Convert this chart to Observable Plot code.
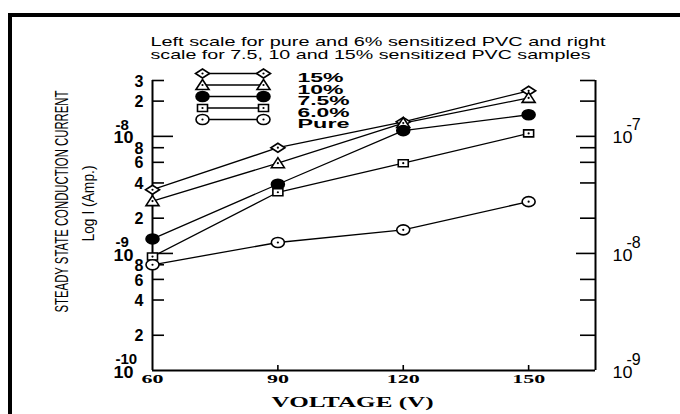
<!DOCTYPE html>
<html><head><meta charset="utf-8">
<script src="https://cdn.jsdelivr.net/npm/d3@7"></script>
<script src="https://cdn.jsdelivr.net/npm/@observablehq/plot@0.6"></script>
<style>
html,body{margin:0;padding:0;background:#fff;}
#chart{position:relative;width:680px;height:414px;overflow:hidden;background:#fff}
#border{position:absolute;left:8px;top:13px;width:700px;height:440px;border-top:4px solid #000;border-left:4px solid #000;pointer-events:none}
svg{display:block}
</style></head><body><div id="chart"><div id="border"></div></div>
<script>
// ---- data ----
const voltages = [60, 90, 120, 150];
const seriesNames = ["15%", "10%", "7.5%", "6.0%", "Pure"];
const seriesScale = ["right", "right", "right", "left", "left"];
const current15 = [3.5e-8, 8.0e-8, 1.33e-7, 2.45e-7];
const current10 = [2.8e-8, 5.9e-8, 1.30e-7, 2.13e-7];
const current75 = [1.33e-8, 3.9e-8, 1.12e-7, 1.53e-7];
const current6 = [9.4e-10, 3.33e-9, 5.9e-9, 1.06e-8];
const currentPure = [8.0e-10, 1.24e-9, 1.59e-9, 2.77e-9];
const xTicks = [60, 90, 120, 150];
const leftMajor = [1e-10, 1e-9, 1e-8];
const leftMajorExp = ["-10", "-9", "-8"];
const leftMinor = [2e-10, 4e-10, 6e-10, 8e-10, 2e-9, 4e-9, 6e-9, 8e-9, 2e-8, 3e-8];
const leftMinorLabels = ["2", "4", "6", "8", "2", "4", "6", "8", "2", "3"];
const rightMinor = [2e-10, 4e-10, 6e-10, 2e-9, 4e-9, 6e-9, 8e-9, 2e-8, 3e-8];
const rightMajorExp = ["-9", "-8", "-7"];
const titleLines = ["Left scale for pure and 6% sensitized PVC and right", "scale for 7.5, 10 and 15% sensitized PVC samples"];
const yTitle = "STEADY STATE CONDUCTION CURRENT";
const yTitle2 = "Log I (Amp.)";
const xTitle = "VOLTAGE (V)";

// ---- layout / style ----
const W = 680, H = 414, mL = 152, mR = 85, mT = 80, mB = 44;
const pw = W - mL - mR, ph = H - mT - mB;
const midY = mT + ph / 2;
function ell(c, a, b) {
  const k = 0.5523;
  c.moveTo(a, 0);
  c.bezierCurveTo(a, b * k, a * k, b, 0, b);
  c.bezierCurveTo(-a * k, b, -a, b * k, -a, 0);
  c.bezierCurveTo(-a, -b * k, -a * k, -b, 0, -b);
  c.bezierCurveTo(a * k, -b, a, -b * k, a, 0);
  c.closePath();
}
const sym = {
  diamond: {draw(c) { c.moveTo(7, 0); c.lineTo(0, 4.5); c.lineTo(-7, 0); c.lineTo(0, -4.5); c.closePath(); }},
  triangle: {draw(c) { c.moveTo(0, -5.5); c.lineTo(6.5, 4.5); c.lineTo(-6.5, 4.5); c.closePath(); }},
  ellipse: {draw(c) { ell(c, 6.5, 5); }},
  rect: {draw(c) { c.rect(-5, -3.5, 10, 7); }},
  seg: {draw(c) { c.moveTo(-30.5, 0); c.lineTo(30.5, 0); }}
};
const seriesSym = [sym.diamond, sym.triangle, sym.ellipse, sym.rect, sym.ellipse];
const seriesFill = ["white", "white", "black", "white", "white"];
const seriesCenter = [true, true, false, true, true];

const allCurrents = [current15, current10, current75, current6, currentPure];
const rows = seriesNames.flatMap((s, i) => voltages.map((v, j) => ({
  series: s, si: i, v, I: allCurrents[i][j],
  yp: seriesScale[i] === "right" ? allCurrents[i][j] / 10 : allCurrents[i][j]
})));

const sans = "Liberation Sans, Arial, sans-serif";
const serif = "Liberation Serif, Times New Roman, serif";
const narrow = "Liberation Sans Narrow, Liberation Sans, Arial, sans-serif";

const marks = [];
// axes frame (left, right, bottom)
marks.push(Plot.ruleX([60, 166], {stroke: "black", strokeWidth: 2}));
marks.push(Plot.ruleY([1e-10], {stroke: "black", strokeWidth: 2}));
// left ticks
marks.push(Plot.ruleY(leftMinor, {stroke: "black", strokeWidth: 1.6, insetRight: pw - 12}));
marks.push(Plot.ruleY(leftMajor.slice(1), {stroke: "black", strokeWidth: 1.6, insetRight: pw - 21}));
// right ticks
marks.push(Plot.ruleY(rightMinor, {stroke: "black", strokeWidth: 1.6, insetLeft: pw - 15}));
marks.push(Plot.ruleY(leftMajor.slice(1), {stroke: "black", strokeWidth: 1.6, insetLeft: pw - 19}));
// x ticks
marks.push(Plot.ruleX(xTicks.slice(1), {stroke: "black", strokeWidth: 1.6, insetTop: ph - 5}));

// left tick labels
const leftMinorData = leftMinor.map((v, i) => ({v, t: leftMinorLabels[i]}));
marks.push(Plot.text(leftMinorData, {y: "v", text: "t", frameAnchor: "left", textAnchor: "end", dx: -9, dy: 1, fontSize: 16, fontWeight: "bold", fontFamily: sans, fill: "black"}));
const leftMajorData = leftMajor.map((v, i) => ({v, e: leftMajorExp[i]}));
marks.push(Plot.text(leftMajorData, {y: "v", text: () => "10", frameAnchor: "left", textAnchor: "end", dx: -19, dy: 2, fontSize: 16, fontWeight: "bold", fontFamily: sans, fill: "black", className: "ten"}));
marks.push(Plot.text(leftMajorData, {y: "v", text: "e", frameAnchor: "left", textAnchor: "start", dx: -37, dy: -11, fontSize: 15, fontWeight: "bold", fontFamily: sans, fill: "black"}));
// right tick labels
const rightMajorData = leftMajor.map((v, i) => ({v, e: rightMajorExp[i]}));
marks.push(Plot.text(rightMajorData, {y: "v", text: () => "10", frameAnchor: "right", textAnchor: "start", dx: 17, dy: 2, fontSize: 16, fontFamily: sans, fill: "black", className: "ten"}));
marks.push(Plot.text(rightMajorData, {y: "v", text: "e", frameAnchor: "right", textAnchor: "start", dx: 31, dy: -11, fontSize: 16, fontFamily: sans, fill: "black"}));
// x tick labels
marks.push(Plot.text(xTicks, {x: d => d, text: d => String(d), frameAnchor: "bottom", dy: 12, fontSize: 13, fontWeight: "bold", fontFamily: serif, fill: "black", className: "xlab"}));
// axis titles
marks.push(Plot.text([xTitle], {text: d => d, frameAnchor: "bottom", dx: -21.5, dy: 36, fontSize: 15, fontWeight: "bold", fontFamily: serif, fill: "black", className: "xtitle"}));
marks.push(Plot.text([yTitle], {text: d => d, frameAnchor: "left", rotate: -90, textAnchor: "start", dx: 62 - mL, dy: (201 + 111) - midY, fontSize: 18, fontFamily: narrow, fill: "black", className: "ytitle"}));
marks.push(Plot.text([yTitle2], {text: d => d, frameAnchor: "left", rotate: -90, textAnchor: "start", dx: 88 - mL, dy: (203 + 38) - midY, fontSize: 16, fontFamily: narrow, fill: "black", className: "ytitle2"}));
// title
titleLines.forEach((t, i) => {
  marks.push(Plot.text([t], {text: d => d, frameAnchor: "top-left", textAnchor: "start", dx: 150 - mL, dy: 36 + i * 13 - mT, fontSize: 13, fontFamily: sans, fill: "black", className: "title" + i}));
});

// data lines
marks.push(Plot.line(rows, {x: "v", y: "yp", z: "series", stroke: "black", strokeWidth: 1.3}));
// markers
seriesNames.forEach((s, i) => {
  const d = rows.filter(r => r.si === i);
  marks.push(Plot.dot(d, {x: "v", y: "yp", symbol: seriesSym[i], r: 5, fill: seriesFill[i], stroke: "black", strokeWidth: 1.6}));
  if (seriesCenter[i]) marks.push(Plot.dot(d, {x: "v", y: "yp", r: 1.1, fill: "black"}));
});

// legend
seriesNames.forEach((s, i) => {
  const dy = 73 + i * 11.5 - mT;
  marks.push(Plot.dot([s], {frameAnchor: "top-left", dx: 80.5, dy, symbol: sym.seg, r: 5, fill: "none", stroke: "black", strokeWidth: 1.3}));
  [50, 111].forEach(dx => {
    marks.push(Plot.dot([s], {frameAnchor: "top-left", dx, dy, symbol: seriesSym[i], r: 5, fill: seriesFill[i], stroke: "black", strokeWidth: 1.6}));
    if (seriesCenter[i]) marks.push(Plot.dot([s], {frameAnchor: "top-left", dx, dy, r: 1.1, fill: "black"}));
  });
  marks.push(Plot.text([s], {text: d => d, frameAnchor: "top-left", textAnchor: "start", dx: 145, dy, fontSize: 12, fontWeight: "bold", fontFamily: sans, fill: "black", className: "leg"}));
});

const svg = Plot.plot({
  width: W, height: H,
  marginLeft: mL, marginRight: mR, marginTop: mT, marginBottom: mB,
  x: {type: "linear", domain: [60, 166], axis: null},
  y: {type: "log", domain: [1e-10, 3e-8], axis: null},
  style: {background: "white", color: "black", overflow: "visible"},
  marks
});
document.getElementById("chart").insertBefore(svg, document.getElementById("border"));

// stretch the scanned-looking texts
function fit(sel, fn) {
  d3.select(svg).selectAll(sel).each(function () {
    const len = fn(this.textContent);
    if (len) d3.select(this).attr("textLength", len).attr("lengthAdjust", "spacingAndGlyphs");
  });
}
fit(".xlab text", t => t.length === 2 ? 22 : 33);
fit(".xtitle text", () => 162);
fit(".ytitle text", () => 222);
fit(".ytitle2 text", () => 76);
fit(".leg text", t => t.length === 3 ? 46 : 52);
fit(".ten text", () => 20);
fit(".title0 text", () => 455);
fit(".title1 text", () => 440);
</script></body></html>
